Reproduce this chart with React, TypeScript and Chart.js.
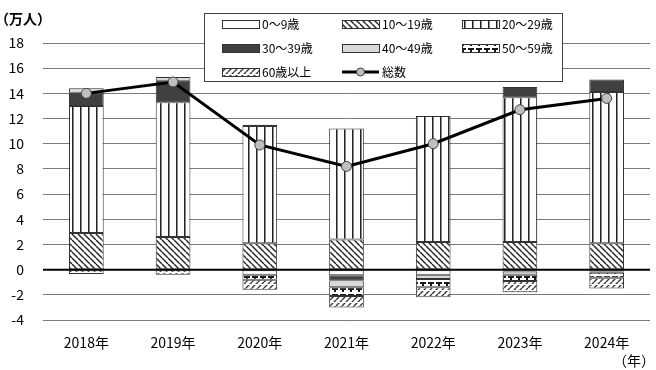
import React, { useEffect, useRef } from 'react';
import { Chart, registerables } from 'chart.js';

Chart.register(...registerables);

// Year-on-year change by age group (万人)
const categories = ['2018年', '2019年', '2020年', '2021年', '2022年', '2023年', '2024年'];
const age0to9 = [0, 0, -0.4, -0.45, -0.4, -0.15, -0.15];
const age10to19 = [2.9, 2.6, 2.1, 2.4, 2.2, 2.2, 2.1];
const age20to29 = [10.1, 10.7, 9.3, 8.8, 10.0, 11.5, 12.0];
const age30to39 = [1.05, 1.7, 0.1, -0.4, 0, 0.8, 1.0];
const age40to49 = [0.35, 0.3, 0, -0.55, -0.35, -0.25, -0.1];
const age50to59 = [0, 0, -0.4, -0.7, -0.65, -0.5, -0.4];
const age60plus = [-0.35, -0.4, -0.8, -0.9, -0.8, -0.9, -0.85];
const totals = [14.0, 14.9, 9.9, 8.2, 10.0, 12.7, 13.6];

const seriesLabels = ['0～9歳', '10～19歳', '20～29歳', '30～39歳', '40～49歳', '50～59歳', '60歳以上'];
const totalLabel = '総数';
const yUnit = '（万人）';
const xUnit = '（年）';
const yMin = -4;
const yMax = 18;
const yStep = 2;

const FONT = '"Noto Sans CJK JP", "Noto Sans", sans-serif';

function makePattern(w: number, h: number, draw: (g: CanvasRenderingContext2D) => void) {
  const c = document.createElement('canvas');
  c.width = w;
  c.height = h;
  const g = c.getContext('2d')!;
  g.fillStyle = '#ffffff';
  g.fillRect(0, 0, w, h);
  draw(g);
  return g.createPattern(c, 'repeat')!;
}

function buildFills() {
  const downHatch = makePattern(6, 6, (g) => {
    g.strokeStyle = '#222';
    g.lineWidth = 1.4;
    for (let k = -1; k <= 1; k++) {
      g.beginPath();
      g.moveTo(k * 6, 0);
      g.lineTo(k * 6 + 6, 6);
      g.stroke();
    }
  });
  const vertical = makePattern(8, 4, (g) => {
    g.fillStyle = '#222';
    g.fillRect(0, 0, 1, 4);
    g.fillStyle = '#8a8a8a';
    g.fillRect(1, 0, 1, 4);
  });
  const dots = makePattern(8, 6, (g) => {
    g.fillStyle = '#1a1a1a';
    g.fillRect(0, 0, 8, 2);
    g.fillStyle = '#ffffff';
    g.fillRect(2, 0, 2, 2);
    g.fillStyle = '#1a1a1a';
    g.fillRect(6, 2, 2, 2);
  });
  const upHatch = makePattern(6, 6, (g) => {
    g.strokeStyle = '#333';
    g.lineWidth = 1.3;
    for (let k = -1; k <= 1; k++) {
      g.beginPath();
      g.moveTo(k * 6, 6);
      g.lineTo(k * 6 + 6, 0);
      g.stroke();
    }
    g.fillStyle = '#ffffff';
    g.fillRect(0, 2, 6, 1);
  });
  return ['#ffffff', downHatch, vertical, '#404040', '#d9d9d9', dots, upHatch];
}

const zeroLinePlugin = {
  id: 'zeroLine',
  afterDatasetsDraw(chart: any) {
    const { ctx, chartArea, scales } = chart;
    const y = scales.y.getPixelForValue(0);
    ctx.save();
    ctx.strokeStyle = '#000';
    ctx.lineWidth = 2;
    ctx.beginPath();
    ctx.moveTo(chartArea.left, y);
    ctx.lineTo(chartArea.right, y);
    ctx.stroke();
    ctx.restore();
  },
};

const boxLegendPlugin = {
  id: 'boxLegend',
  afterDraw(chart: any) {
    const { ctx } = chart;
    const bars = chart.data.datasets.filter((d: any) => d.type === 'bar');
    ctx.save();
    // frame
    ctx.fillStyle = '#ffffff';
    ctx.fillRect(204, 13, 358, 68);
    ctx.strokeStyle = '#404040';
    ctx.lineWidth = 1;
    ctx.strokeRect(204.5, 13.5, 358, 68);

    const colX = [222, 342, 462];
    const rowY = [24, 48, 72];
    const symW = 37;
    const symH = 8;
    ctx.font = `12px ${FONT}`;
    ctx.textBaseline = 'middle';
    ctx.textAlign = 'left';
    const items = [...bars.map((d: any) => ({ kind: 'bar', ds: d })), { kind: 'line', ds: null }];
    items.forEach((it: any, i: number) => {
      const x = colX[i % 3];
      const y = rowY[Math.floor(i / 3)];
      if (it.kind === 'bar') {
        ctx.fillStyle = it.ds.backgroundColor;
        ctx.fillRect(x, y - symH / 2, symW, symH);
        ctx.strokeStyle = '#333';
        ctx.lineWidth = 1;
        ctx.strokeRect(x + 0.5, y - symH / 2 + 0.5, symW, symH);
        ctx.fillStyle = '#000';
        ctx.fillText(it.ds.label, x + symW + 3, y);
      } else {
        ctx.strokeStyle = '#000';
        ctx.lineWidth = 3;
        ctx.beginPath();
        ctx.moveTo(x, y);
        ctx.lineTo(x + symW, y);
        ctx.stroke();
        ctx.beginPath();
        ctx.arc(x + symW / 2, y, 4, 0, Math.PI * 2);
        ctx.fillStyle = '#bfbfbf';
        ctx.fill();
        ctx.lineWidth = 1;
        ctx.strokeStyle = '#404040';
        ctx.stroke();
        ctx.fillStyle = '#000';
        ctx.fillText(totalLabel, x + symW + 3, y);
      }
    });

    // axis unit captions
    ctx.fillStyle = '#000';
    ctx.font = `bold 14px ${FONT}`;
    ctx.textAlign = 'left';
    ctx.fillText(yUnit, -5, 19);
    ctx.font = `14px ${FONT}`;
    ctx.textAlign = 'right';
    ctx.fillText(xUnit, 655, 361);
    ctx.restore();
  },
};

export default function App() {
  const canvasRef = useRef<HTMLCanvasElement | null>(null);

  useEffect(() => {
    const canvas = canvasRef.current;
    if (!canvas) return;
    const fills = buildFills();
    const series = [age0to9, age10to19, age20to29, age30to39, age40to49, age50to59, age60plus];

    const barSets = series.map((values, i) => ({
      type: 'bar' as const,
      label: seriesLabels[i],
      data: values,
      backgroundColor: fills[i],
      borderColor: '#333333',
      borderWidth: 1,
      borderSkipped: false,
      categoryPercentage: 1,
      barPercentage: 0.4,
      order: 1,
    }));

    const chart = new Chart(canvas, {
      data: {
        labels: categories,
        datasets: [
          {
            type: 'line' as const,
            label: totalLabel,
            data: totals,
            borderColor: '#000000',
            borderWidth: 3,
            pointRadius: 5,
            pointBackgroundColor: '#bfbfbf',
            pointBorderColor: '#404040',
            pointBorderWidth: 1,
            stack: 'total',
            order: 0,
          },
          ...barSets,
        ] as any,
      },
      plugins: [zeroLinePlugin, boxLegendPlugin],
      options: {
        animation: false,
        responsive: false,
        maintainAspectRatio: false,
        layout: { padding: { top: 43, right: 1, left: 0, bottom: 0 } },
        plugins: {
          legend: { display: false },
          tooltip: { enabled: false },
        },
        scales: {
          x: {
            stacked: true,
            grid: { display: false, drawTicks: false },
            border: { display: false },
            ticks: { padding: 14, color: '#000', font: { size: 14, family: FONT } },
            afterFit: (s: any) => {
              s.height = 50;
            },
          },
          y: {
            stacked: true,
            min: yMin,
            max: yMax,
            ticks: { stepSize: yStep, padding: 19, color: '#000', font: { size: 14, family: FONT } },
            grid: {
              drawTicks: false,
              color: (c: any) => (c.tick && c.tick.value === 0 ? '#000' : '#7a7a7a'),
              lineWidth: 1,
            },
            border: { display: false },
            afterFit: (s: any) => {
              s.width = 43;
            },
          },
        },
      } as any,
    });

    return () => chart.destroy();
  }, []);

  return (
    <div style={{ position: 'absolute', left: 0, top: 0, width: 656, height: 370, background: '#fff' }}>
      <canvas ref={canvasRef} width={656} height={370} style={{ display: 'block' }} />
    </div>
  );
}
